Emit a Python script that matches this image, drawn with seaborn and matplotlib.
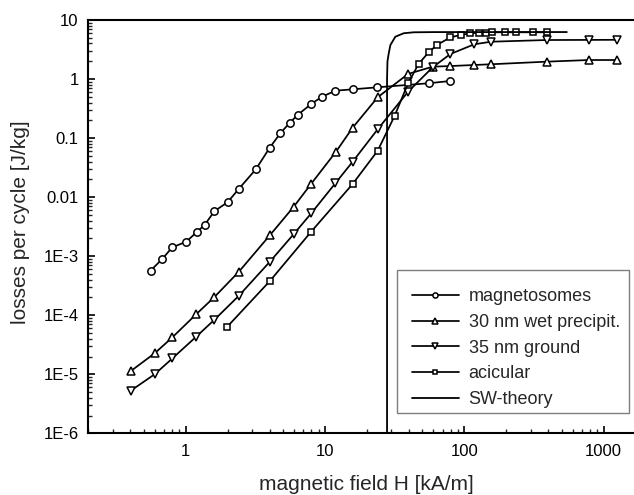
import numpy as np
import pandas as pd
import matplotlib
matplotlib.use('Agg')
import matplotlib.pyplot as plt
import seaborn as sns
from matplotlib.patches import Rectangle
from matplotlib.ticker import FixedLocator, FixedFormatter, LogLocator, NullFormatter

# ---- data ----
mag_H = [0.56, 0.68, 0.80, 1.01, 1.21, 1.37, 1.61, 2.00, 2.40, 3.19, 4.00, 4.77, 5.57,
         6.39, 7.97, 9.52, 11.9, 15.8, 23.7, 55.4, 79.4]
mag_L = [5.7e-4, 9.0e-4, 1.41e-3, 1.76e-3, 2.6e-3, 3.4e-3, 5.8e-3, 8.2e-3, 0.0137, 0.0296,
         0.068, 0.120, 0.180, 0.249, 0.378, 0.502, 0.635, 0.670, 0.724, 0.848, 0.927]

wet_H = [0.403, 0.602, 0.803, 1.19, 1.60, 2.41, 4.02, 5.97, 7.97, 12.0, 15.8, 23.9,
         39.5, 59.3, 79.4, 118, 156, 392, 783, 1256]
wet_L = [1.13e-5, 2.29e-5, 4.23e-5, 1.04e-4, 2.01e-4, 5.46e-4, 2.26e-3, 6.89e-3, 0.0169,
         0.0588, 0.150, 0.491, 1.22, 1.62, 1.66, 1.73, 1.78, 1.97, 2.10, 2.10]

gnd_H = [0.403, 0.602, 0.803, 1.19, 1.60, 2.41, 4.02, 5.97, 7.97, 11.9, 15.8, 23.9,
         39.5, 59.3, 79.4, 118, 156, 392, 783, 1256]
gnd_L = [5.26e-6, 1.01e-5, 1.86e-5, 4.33e-5, 8.29e-5, 2.14e-4, 8.05e-4, 2.37e-3, 5.32e-3,
         0.0173, 0.0398, 0.141, 0.610, 1.58, 2.65, 3.88, 4.29, 4.58, 4.60, 4.62]

aci_H = [1.99, 4.02, 7.96, 15.8, 23.9, 31.6, 39.5, 47.0, 55.5, 63.7, 79.4, 94.7, 110,
         128, 143, 158, 197, 236, 314, 392]
aci_L = [6.4e-5, 3.79e-4, 2.6e-3, 0.0167, 0.0611, 0.237, 0.847, 1.80, 2.84, 3.77, 5.09,
         5.57, 5.96, 6.10, 6.10, 6.19, 6.19, 6.19, 6.19, 6.19]

sw_H = [27.9, 27.9, 28.1, 28.7, 29.5, 32.0, 36.7, 43.3, 60.0, 545]
sw_L = [1e-7, 1.0, 2.0, 2.73, 3.77, 5.21, 5.96, 6.19, 6.24, 6.25]

labels = ['magnetosomes', '30 nm wet precipit.', '35 nm ground', 'acicular', 'SW-theory']
y_ticks = [1e-6, 1e-5, 1e-4, 1e-3, 0.01, 0.1, 1, 10]
y_ticklabels = ['1E-6', '1E-5', '1E-4', '1E-3', '0.01', '0.1', '1', '10']
x_ticks = [1, 10, 100, 1000]
x_ticklabels = ['1', '10', '100', '1000']

# ---- style ----
sns.set_style('ticks')
plt.rcParams['font.family'] = ['Liberation Sans', 'DejaVu Sans']

fig = plt.figure(figsize=(6.34, 4.95), dpi=100)
ax = fig.add_axes([0.1393, 0.1246, 0.8607, 0.835])
ax.set_xscale('log')
ax.set_yscale('log')

series = [
    (mag_H, mag_L, 'o', 5.3, labels[0]),
    (wet_H, wet_L, '^', 6.0, labels[1]),
    (gnd_H, gnd_L, 'v', 6.0, labels[2]),
    (aci_H, aci_L, 's', 4.6, labels[3]),
]
for H, L, m, ms, lab in series:
    sns.lineplot(x=H, y=L, marker=m, markersize=ms, markerfacecolor='white',
                 markeredgecolor='black', markeredgewidth=1.1, color='black',
                 linewidth=1.25, label=lab, estimator=None, sort=False, ax=ax)
sns.lineplot(x=sw_H, y=sw_L, color='black', linewidth=1.3, label=labels[4],
             estimator=None, sort=False, ax=ax)

ax.set_xlim(0.2, 1654)
ax.set_ylim(1e-6, 10)

ax.yaxis.set_major_locator(FixedLocator(y_ticks))
ax.yaxis.set_major_formatter(FixedFormatter(y_ticklabels))
ax.yaxis.set_minor_locator(LogLocator(base=10, subs=np.arange(2, 10), numticks=20))
ax.yaxis.set_minor_formatter(NullFormatter())
ax.xaxis.set_major_locator(FixedLocator(x_ticks))
ax.xaxis.set_major_formatter(FixedFormatter(x_ticklabels))
ax.xaxis.set_minor_locator(LogLocator(base=10, subs=np.arange(2, 10), numticks=20))
ax.xaxis.set_minor_formatter(NullFormatter())

ax.tick_params(which='major', direction='in', length=5, width=1.2, labelsize=12,
               colors='black')
ax.tick_params(which='minor', direction='in', length=3, width=1.0)
ax.tick_params(axis='x', which='major', pad=8)
ax.tick_params(axis='y', which='major', pad=7)

for s in ['left', 'bottom', 'top']:
    ax.spines[s].set_linewidth(1.5)
    ax.spines[s].set_color('black')
ax.spines['right'].set_visible(False)

ax.set_xlabel('magnetic field H [kA/m]', fontsize=15)
ax.set_ylabel('losses per cycle [J/kg]', fontsize=15)
ax.xaxis.set_label_coords(0.509, -0.10)
ax.yaxis.set_label_coords(-0.106, 0.51)

# legend: entries without frame, frame drawn as a separate box
handles, labs = ax.get_legend_handles_labels()
leg = ax.legend(handles, labs, loc='upper left', bbox_to_anchor=(0.5926, 0.351),
                fontsize=13, frameon=False,
                handlelength=2.6, handletextpad=0.55, labelspacing=0.48, borderpad=0.0,
                borderaxespad=0.0, markerscale=0.7)
frame = Rectangle((0.565, 0.0498), 0.4257, 0.3453, transform=ax.transAxes,
                  facecolor='white', edgecolor='#7f7f7f', linewidth=1.0, zorder=4)
ax.add_patch(frame)
leg.set_zorder(5)

fig.savefig('out.png', dpi=100)
